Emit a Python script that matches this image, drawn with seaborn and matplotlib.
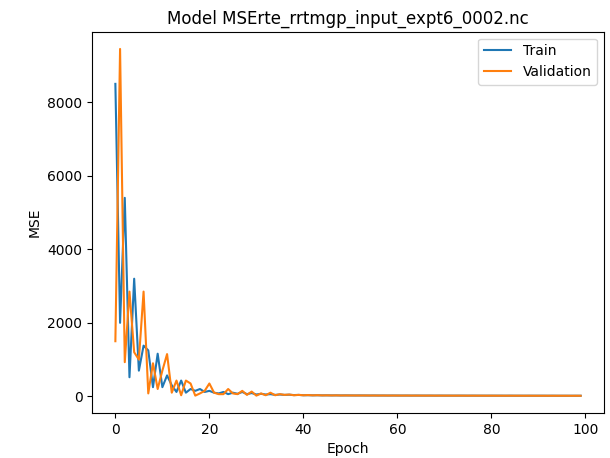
import matplotlib
matplotlib.use("Agg")
import matplotlib.pyplot as plt
import seaborn as sns
import numpy as np
import pandas as pd

train = [8500, 2000, 5400, 520, 3200, 700, 1380, 1250, 250, 1160,
         250, 570, 300, 120, 430, 100, 200, 150, 200, 120,
         150, 100, 80, 120, 60, 100, 70, 120, 60, 90,
         50, 70, 50, 60, 40, 50, 40, 45, 35, 40,
         30, 32, 28, 30, 27, 28, 26, 27, 25, 26,
         25, 24, 25, 24, 23, 24, 23, 23, 22, 23,
         22, 22, 22, 21, 22, 21, 21, 21, 20, 21,
         20, 20, 20, 20, 20, 19, 20, 19, 19, 19,
         19, 19, 19, 18, 19, 18, 18, 18, 18, 18,
         18, 18, 17, 18, 17, 17, 17, 17, 17, 17]
validation = [1500, 9450, 930, 2850, 1200, 1000, 2850, 80, 900, 200,
              700, 1150, 100, 430, 30, 430, 350, 20, 80, 150,
              350, 100, 60, 60, 200, 80, 60, 150, 40, 130,
              20, 80, 30, 100, 30, 60, 40, 50, 30, 40,
              30, 35, 28, 32, 26, 28, 25, 27, 24, 25,
              24, 24, 23, 24, 23, 23, 22, 23, 22, 22,
              22, 21, 22, 21, 21, 21, 20, 21, 20, 20,
              20, 20, 19, 20, 19, 19, 19, 19, 19, 18,
              19, 18, 18, 18, 18, 18, 18, 17, 18, 17,
              17, 17, 17, 17, 17, 17, 17, 16, 17, 16]
epochs = list(range(len(train)))

df = pd.DataFrame({
    "Epoch": epochs * 2,
    "MSE": train + validation,
    "Series": ["Train"] * len(train) + ["Validation"] * len(validation),
})

fig = plt.figure(figsize=(6.1, 4.58), dpi=100)
ax = fig.add_axes([0.151, 0.098, 0.839, 0.833])
sns.lineplot(data=df, x="Epoch", y="MSE", hue="Series", ax=ax,
             palette=["#1f77b4", "#ff7f0e"], linewidth=1.5)
ax.set_title("Model MSErte_rrtmgp_input_expt6_0002.nc")
ax.set_xlabel("Epoch")
ax.set_ylabel("MSE")
ax.legend(loc="upper right")
fig.savefig("out.png", dpi=100)
